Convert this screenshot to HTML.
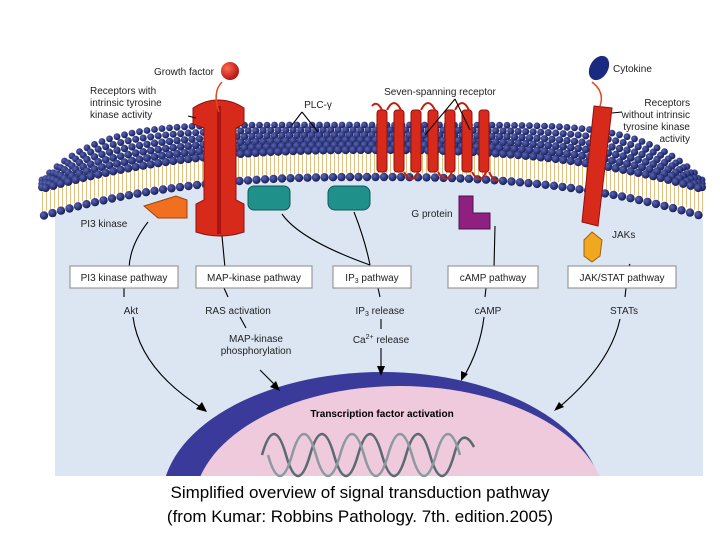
<!DOCTYPE html>
<html><head><meta charset="utf-8"><style>
body{margin:0;background:#fff;width:720px;height:540px;overflow:hidden;font-family:"Liberation Sans",sans-serif;position:relative}
svg{position:absolute;left:0;top:0}
.cap{position:absolute;left:0;width:720px;text-align:center;font-size:17px;line-height:22px;color:#000}
</style></head><body>
<svg width="720" height="540" viewBox="0 0 720 540" font-family="Liberation Sans, sans-serif">
<defs>
<clipPath id="cl"><rect x="0" y="0" width="720" height="476"/></clipPath>
<radialGradient id="hd" cx="0.35" cy="0.35" r="0.7"><stop offset="0" stop-color="#5a66b8"/><stop offset="1" stop-color="#121a52"/></radialGradient>
<radialGradient id="rb" cx="0.35" cy="0.35" r="0.7"><stop offset="0" stop-color="#ff6a50"/><stop offset="1" stop-color="#b01010"/></radialGradient>
</defs>
<path id="interior" d="" fill="#dce6f3"/>
<g id="tails"></g>
<g id="heads"></g>
<g clip-path="url(#cl)">
<ellipse cx="382" cy="500" rx="220" ry="128" fill="#3a3a9a"/>
<ellipse cx="400" cy="506" rx="206" ry="120" fill="#efc9dc"/>
</g>
<text x="382" y="417" font-size="10" font-weight="bold" text-anchor="middle">Transcription factor activation</text>
<g fill="none" stroke="#5a6a70" stroke-width="2.5">
<path d="M262 455 q12 -42 24 0 q12 42 24 0 q12 -42 24 0 q12 42 24 0 q12 -42 24 0 q12 42 24 0 q12 -42 24 0 q12 42 24 0 q8 -30 20 -8"/>
<path d="M268 455 q12 42 24 0 q12 -42 24 0 q12 42 24 0 q12 -42 24 0 q12 42 24 0 q12 -42 24 0 q12 42 24 0 q12 -42 24 0" stroke="#8a9aa0"/>
</g>
<g id="prot">
<path d="M193 108 Q205 100 218 100 Q232 100 244 108 L244 124 L236 128 L236 200 L244 204 L244 232 Q220 240 196 232 L196 204 L204 200 L204 128 L193 124 Z" fill="#d82a1a" stroke="#901010"/>
<rect x="217" y="106" width="4" height="128" fill="#a81410"/>
<circle cx="230" cy="71" r="9" fill="url(#rb)"/>
<path d="M222 82 Q212 92 219 112" stroke="#e04a20" stroke-width="1.5" fill="none"/>
<path d="M594 106 L612 108 L598 226 L582 222 Z" fill="#d82a1a" stroke="#901010"/>
<ellipse cx="599" cy="68" rx="9" ry="13" transform="rotate(30 599 68)" fill="#1a2a80"/>
<path d="M592 82 Q605 92 600 106" stroke="#e04a20" stroke-width="1.5" fill="none"/>
<polygon points="592,232 602,240 600,256 592,262 584,256 584,240" fill="#f0a820" stroke="#a06010"/>
<path d="M144 206 L176 196 L187 200 L187 218 L158 218 Z" fill="#f07020" stroke="#a04010"/>
<rect x="248" y="186" width="42" height="24" rx="6" fill="#20908a" stroke="#0c5a55"/>
<rect x="328" y="186" width="42" height="24" rx="7" fill="#20908a" stroke="#0c5a55"/>
<path d="M459 196 L473 196 L473 213 L490 213 L490 229 L459 229 Z" fill="#902080" stroke="#501050"/>
<g fill="#d82a1a" stroke="#901010">
<rect x="377" y="110" width="10" height="62" rx="3"/><rect x="394" y="110" width="10" height="62" rx="3"/><rect x="411" y="110" width="10" height="62" rx="3"/><rect x="428" y="110" width="10" height="62" rx="3"/><rect x="445" y="110" width="10" height="62" rx="3"/><rect x="462" y="110" width="10" height="62" rx="3"/><rect x="479" y="110" width="10" height="62" rx="3"/>
</g>
<path d="M372 106 q5 -6 10 4 M387 110 q7 -14 14 0 M421 110 q7 -14 14 0 M455 110 q7 -14 14 0 M404 172 q8 14 14 0 M438 172 q8 14 14 0 M472 172 q8 14 14 0 M489 172 q5 10 10 8" stroke="#c02010" stroke-width="2" fill="none"/>
</g>
<g stroke="#000" stroke-width="1.1" fill="none">
<path d="M148 222 Q130 245 129 268"/>
<path d="M222 236 L225 268"/>
<path d="M282 214 Q300 240 370 265"/>
<path d="M354 212 Q365 240 370 265"/>
<path d="M495 226 L494 268"/>
<path d="M630 264 L628 268"/>
<path d="M124 288 L124 297 M133 317 Q140 370 205 410"/>
<path d="M224 288 L228 297 M240 317 L246 328 M260 370 L278 388"/>
<path d="M378 288 L380 297 M381 319 L381 329 M381 348 L381 372"/>
<path d="M486 288 L485 297 M484 317 Q480 350 463 378"/>
<path d="M626 288 L625 297 M620 319 Q610 365 557 409"/>
<path d="M188 116 L196 118"/><path d="M612 113 L622 112"/>
<path d="M302 112 L292 125 M302 112 L318 132"/>
<path d="M455 99 L425 135 M455 99 L470 130"/>
</g>
<g fill="#000">
<polygon points="207,412 196,409 202,402"/><polygon points="280,391 270,387 276,381"/><polygon points="381,376 377,366 385,366"/><polygon points="461,381 461,371 468,374"/><polygon points="554,411 559,402 564,407"/>
</g>
<g fill="#fff" stroke="#888">
<rect x="70" y="266" width="108" height="22"/><rect x="196" y="266" width="116" height="22"/><rect x="333" y="266" width="78" height="22"/><rect x="448" y="266" width="90" height="22"/><rect x="568" y="266" width="108" height="22"/>
</g>
<g font-size="10" fill="#222" text-anchor="middle">
<text x="124" y="281">PI3 kinase pathway</text><text x="254" y="281">MAP-kinase pathway</text><text x="372" y="281">IP<tspan font-size="7" dy="2">3</tspan><tspan dy="-2"> pathway</tspan></text><text x="493" y="281">cAMP pathway</text><text x="622" y="281">JAK/STAT pathway</text>
<text x="131" y="314">Akt</text><text x="238" y="314">RAS activation</text><text x="380" y="314">IP<tspan font-size="7" dy="2">3</tspan><tspan dy="-2"> release</tspan></text><text x="488" y="314">cAMP</text><text x="624" y="314">STATs</text>
<text x="256" y="342">MAP-kinase</text><text x="256" y="354">phosphorylation</text><text x="381" y="343">Ca<tspan font-size="7" dy="-4">2+</tspan><tspan dy="4"> release</tspan></text>
<text x="184" y="75">Growth factor</text>
<text x="613" y="72" text-anchor="start">Cytokine</text>
<text x="440" y="95">Seven-spanning receptor</text>
<text x="318" y="108">PLC-γ</text>
<text x="90" y="94" text-anchor="start">Receptors with</text><text x="90" y="106" text-anchor="start">intrinsic tyrosine</text><text x="90" y="118" text-anchor="start">kinase activity</text>
<text x="690" y="106" text-anchor="end">Receptors</text><text x="690" y="118" text-anchor="end">without intrinsic</text><text x="690" y="130" text-anchor="end">tyrosine kinase</text><text x="690" y="142" text-anchor="end">activity</text>
<text x="104" y="227">PI3 kinase</text><text x="432" y="217">G protein</text><text x="612" y="238" text-anchor="start">JAKs</text>
</g>
</svg>
<div class="cap" style="top:482px">Simplified overview of signal transduction pathway</div>
<div class="cap" style="top:506px">(from Kumar: Robbins Pathology. 7th. edition.2005)</div>
<script>
var NS="http://www.w3.org/2000/svg";
function t(x){return Math.min(1.05,Math.abs((x-372)/333));}
function f(x){return 40*Math.pow(t(x),2.5);}
function top_(x){return 125+58*Math.pow(t(x),6);}
var d="M55 "+(f(55)+180);
for(var x=55;x<=703;x+=4)d+=" L"+x+" "+(f(x)+180);
d+=" L703 476 L55 476 Z";
document.getElementById("interior").setAttribute("d",d);
var H=document.getElementById("heads"),T=document.getElementById("tails");
function c(x,y,r){var e=document.createElementNS(NS,"circle");e.setAttribute("cx",x.toFixed(1));e.setAttribute("cy",y.toFixed(1));e.setAttribute("r",r);e.setAttribute("fill","url(#hd)");H.appendChild(e);}
for(var x=42;x<=704;x+=2){var y=f(x);var l=document.createElementNS(NS,"rect");l.setAttribute("x",x);l.setAttribute("y",(y+153).toFixed(1));l.setAttribute("width",1);l.setAttribute("height",20);l.setAttribute("fill",x%4?"#e0c080":"#fff");T.appendChild(l);}
// surface heads
for(var k=0;k<6;k++){
 var step=7.5;
 for(var x=42+(k%2)*3.7;x<=704;x+=step){
  var tp=top_(x),fr=f(x)+150;
  if(tp>fr)tp=fr;
  var y=tp+(fr-tp)*k/5;
  c(x,y,3.4+k*0.15);
 }
}
for(var x=44;x<=702;x+=8.5){c(x,f(x)+177,4.2);}
</script>
</body></html>
